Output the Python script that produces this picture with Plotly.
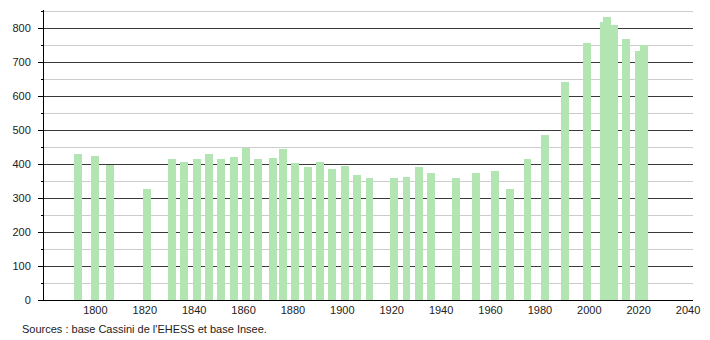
import plotly.graph_objects as go

years = [1793, 1800, 1806, 1821, 1831, 1836, 1841, 1846, 1851, 1856,
         1861, 1866, 1872, 1876, 1881, 1886, 1891, 1896, 1901, 1906,
         1911, 1921, 1926, 1931, 1936, 1946, 1954, 1962, 1968, 1975,
         1982, 1990, 1999, 2006, 2007, 2010, 2015, 2020, 2022]
population = [430, 425, 396, 327, 415, 407, 415, 430, 415, 421,
              446, 415, 418, 445, 404, 390, 407, 386, 395, 368,
              360, 360, 363, 392, 374, 360, 374, 379, 327, 415,
              486, 642, 756, 819, 832, 810, 768, 731, 749]

x_ticks = [1800, 1820, 1840, 1860, 1880, 1900, 1920, 1940, 1960, 1980, 2000, 2020, 2040]
source_text = "Sources : base Cassini de l'EHESS et base Insee."

fig = go.Figure()
fig.add_trace(go.Bar(
    x=years, y=population, width=3.2,
    marker=dict(color="#b3e5b3", line=dict(width=0)),
    hoverinfo="x+y",
))

font_family = "Liberation Sans, Arial, sans-serif"
fig.update_layout(
    width=710, height=340,
    margin=dict(l=44, r=10, t=10, b=40),
    paper_bgcolor="white", plot_bgcolor="white",
    showlegend=False,
    font=dict(family=font_family, size=11, color="#222"),
    bargap=0,
    annotations=[dict(
        text=source_text, xref="paper", yref="paper",
        x=-0.037, y=-0.099, xanchor="left", yanchor="middle",
        showarrow=False, font=dict(size=11, color="#222", family=font_family),
    )],
)
fig.update_xaxes(
    range=[1779.2, 2042], tickmode="array", tickvals=x_ticks,
    showgrid=False, zeroline=False, showline=True, linecolor="black", linewidth=1,
    ticks="", tickfont=dict(size=11, color="#222"),
)
fig.update_yaxes(
    range=[0, 853], dtick=100, tick0=0,
    showgrid=True, gridcolor="#3a3a3a", gridwidth=1,
    zeroline=False, showline=True, linecolor="black", linewidth=1,
    ticks="outside", ticklen=5, tickcolor="black",
    ticklabelstandoff=5,
    tickfont=dict(size=11, color="#222"),
    minor=dict(dtick=50, tick0=0, showgrid=True, gridcolor="#cccccc", gridwidth=1,
               ticks="outside", ticklen=2, tickcolor="black"),
)

fig.write_html("out.html")
